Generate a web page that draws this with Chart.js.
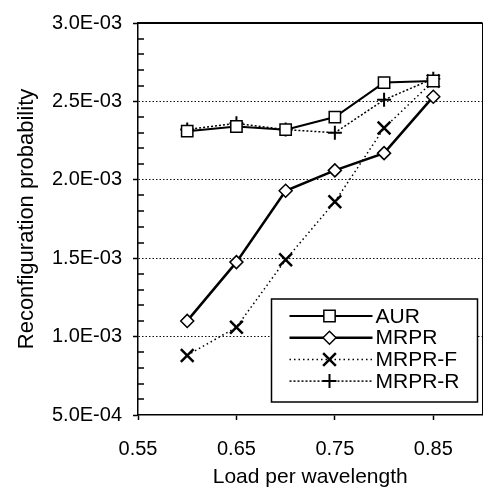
<!DOCTYPE html>
<html>
<head>
<meta charset="utf-8">
<script src="https://cdn.jsdelivr.net/npm/chart.js"></script>
<style>
  html, body { margin: 0; padding: 0; background: #fff; }
  #wrap { width: 494px; height: 496px; }
</style>
</head>
<body>
<div id="wrap"><canvas id="chart" width="494" height="496"></canvas></div>
<script>
// values
const loads = [0.6, 0.65, 0.7, 0.75, 0.8, 0.85];
const aur = [2.31e-3, 2.34e-3, 2.32e-3, 2.40e-3, 2.62e-3, 2.63e-3];
const mrpr = [1.10e-3, 1.475e-3, 1.93e-3, 2.06e-3, 2.17e-3, 2.53e-3];
const mrprF = [0.88e-3, 1.06e-3, 1.49e-3, 1.86e-3, 2.33e-3, 2.63e-3];
const mrprR = [2.32e-3, 2.36e-3, 2.32e-3, 2.30e-3, 2.51e-3, 2.645e-3];

const xTicks = [0.55, 0.65, 0.75, 0.85];
const yTicks = [5e-4, 1e-3, 1.5e-3, 2e-3, 2.5e-3, 3e-3];
const yMinorStep = 1e-4;

const FONT = "'Liberation Sans', Arial, sans-serif";

function pts(ys) {
    return loads.map((x, i) => ({ x: x, y: ys[i] }));
}

function sci(v) {
    // 2.5e-3 -> 2.5E-03
    const s = v.toExponential(1).split('e');
    const exp = parseInt(s[1], 10);
    const sign = exp < 0 ? '-' : '+';
    const digits = String(Math.abs(exp)).padStart(2, '0');
    return s[0] + 'E' + sign + digits;
}

// top/right frame, inside minor ticks and the boxed legend
const extras = {
    id: 'extras',
    afterDraw(chart) {
        const ctx = chart.ctx;
        const ca = chart.chartArea;
        const y = chart.scales.y;
        ctx.save();
        ctx.strokeStyle = '#000';
        ctx.setLineDash([]);
        ctx.lineWidth = 2;
        ctx.beginPath();
        ctx.moveTo(ca.left, ca.top);
        ctx.lineTo(ca.right, ca.top);
        ctx.stroke();
        ctx.lineWidth = 1;
        ctx.beginPath();
        ctx.moveTo(ca.right, ca.top);
        ctx.lineTo(ca.right, ca.bottom);
        ctx.stroke();

        // minor ticks pointing inward
        ctx.lineWidth = 1.5;
        for (let k = 0; k < yTicks.length - 1; k++) {
            for (let m = 1; m < 5; m++) {
                const py = Math.round(y.getPixelForValue(yTicks[k] + m * yMinorStep));
                ctx.beginPath();
                ctx.moveTo(ca.left, py);
                ctx.lineTo(ca.left + 6, py);
                ctx.stroke();
            }
        }

        // legend
        const bx = ca.right - 211, by = ca.bottom - 116, bw = 206, bh = 103;
        ctx.fillStyle = '#fff';
        ctx.fillRect(bx, by, bw, bh);
        ctx.lineWidth = 1.5;
        ctx.strokeRect(bx, by, bw, bh);
        ctx.font = '21px ' + FONT;
        ctx.textBaseline = 'middle';
        ctx.textAlign = 'left';
        chart.data.datasets.forEach((ds, i) => {
            const ry = by + 17 + i * 21.7;
            ctx.strokeStyle = ds.borderColor;
            ctx.lineWidth = ds.borderWidth;
            ctx.setLineDash(ds.borderDash || []);
            ctx.beginPath();
            ctx.moveTo(bx + 18, ry);
            ctx.lineTo(bx + 101, ry);
            ctx.stroke();
            ctx.setLineDash([]);
            ctx.fillStyle = ds.pointBackgroundColor;
            ctx.strokeStyle = ds.pointBorderColor;
            ctx.lineWidth = ds.pointBorderWidth;
            Chart.helpers.drawPoint(ctx, {
                pointStyle: ds.pointStyle,
                radius: ds.pointRadius,
                rotation: 0,
                borderWidth: ds.pointBorderWidth
            }, bx + 58, ry);
            ctx.fillStyle = '#000';
            ctx.fillText(ds.label, bx + 104, ry + 1);
        });
        ctx.restore();
    }
};

const ctx = document.getElementById('chart').getContext('2d');
new Chart(ctx, {
    type: 'scatter',
    data: {
        datasets: [
            {
                label: 'AUR',
                data: pts(aur),
                showLine: true,
                borderColor: '#000',
                borderWidth: 2,
                pointStyle: 'rect',
                pointRadius: 8,
                pointBackgroundColor: '#fff',
                pointBorderColor: '#000',
                pointBorderWidth: 1.5
            },
            {
                label: 'MRPR',
                data: pts(mrpr),
                showLine: true,
                borderColor: '#000',
                borderWidth: 2.5,
                pointStyle: 'rectRot',
                pointRadius: 6.5,
                pointBackgroundColor: '#fff',
                pointBorderColor: '#000',
                pointBorderWidth: 1.5
            },
            {
                label: 'MRPR-F',
                data: pts(mrprF),
                showLine: true,
                borderColor: '#000',
                borderWidth: 1.5,
                borderDash: [1.5, 3],
                pointStyle: 'crossRot',
                pointRadius: 9,
                pointBackgroundColor: '#000',
                pointBorderColor: '#000',
                pointBorderWidth: 2.5
            },
            {
                label: 'MRPR-R',
                data: pts(mrprR),
                showLine: true,
                borderColor: '#000',
                borderWidth: 1.5,
                borderDash: [2, 2],
                pointStyle: 'cross',
                pointRadius: 7,
                pointBackgroundColor: '#000',
                pointBorderColor: '#000',
                pointBorderWidth: 2
            }
        ]
    },
    options: {
        responsive: false,
        animation: false,
        layout: { padding: { top: 15, right: 9, left: 0, bottom: 0 } },
        plugins: {
            legend: { display: false },
            tooltip: { enabled: false }
        },
        scales: {
            x: {
                type: 'linear',
                min: 0.55,
                max: 0.9,
                afterBuildTicks: (s) => { s.ticks = xTicks.map(v => ({ value: v })); },
                afterFit: (s) => { s.height = 81; },
                border: { color: '#000', width: 1.5 },
                grid: { drawOnChartArea: false, tickLength: 5, tickColor: '#000', tickWidth: 1.5 },
                ticks: {
                    padding: 17,
                    color: '#000',
                    font: { family: FONT, size: 20 },
                    callback: (v) => v.toFixed(2)
                },
                title: {
                    display: true,
                    text: 'Load per wavelength',
                    color: '#000',
                    font: { family: FONT, size: 21 },
                    padding: { top: 0, bottom: 6 }
                }
            },
            y: {
                type: 'linear',
                min: 5e-4,
                max: 3e-3,
                afterBuildTicks: (s) => { s.ticks = yTicks.map(v => ({ value: v })); },
                afterFit: (s) => { s.width = 138; },
                border: { color: '#000', width: 1.5, dash: [1.5, 2] },
                grid: {
                    color: (c) => (c.tick && (c.tick.value === yTicks[0] || c.tick.value === yTicks[yTicks.length - 1])) ? 'rgba(0,0,0,0)' : '#111',
                    lineWidth: 1,
                    tickLength: 5,
                    tickColor: '#000',
                    tickWidth: 1.5,
                    tickBorderDash: []
                },
                ticks: {
                    padding: 11,
                    color: '#000',
                    font: { family: FONT, size: 20 },
                    callback: (v) => sci(v)
                },
                title: {
                    display: true,
                    text: 'Reconfiguration probability',
                    color: '#000',
                    font: { family: FONT, size: 22 },
                    padding: { top: 14, bottom: 0 }
                }
            }
        }
    },
    plugins: [extras]
});
</script>
</body>
</html>
